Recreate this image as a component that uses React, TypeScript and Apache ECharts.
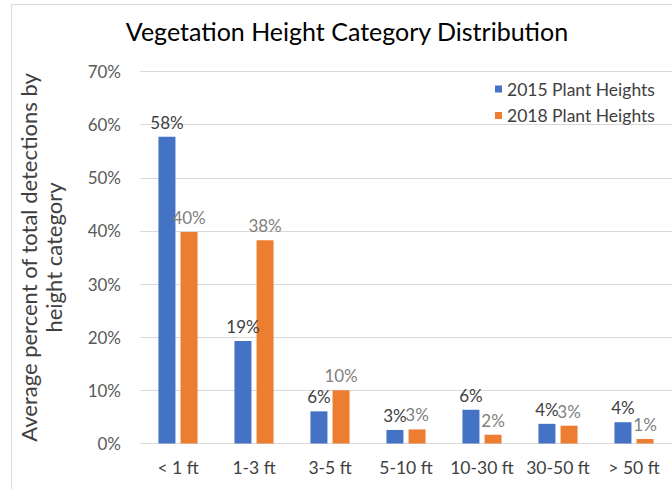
import React, { useEffect, useRef } from "react";
import * as echarts from "echarts";

const categories = ["< 1 ft", "1-3 ft", "3-5 ft", "5-10 ft", "10-30 ft", "30-50 ft", "> 50 ft"];
const heights2015 = [57.7, 19.3, 6.05, 2.55, 6.35, 3.7, 4.0];
const heights2018 = [39.8, 38.25, 10.0, 2.65, 1.65, 3.35, 0.85];
const seriesNames = ["2015 Plant Heights", "2018 Plant Heights"];
const yTicks = { min: 0, max: 70, interval: 10 };

const FONT = "Lato, 'Noto Sans', sans-serif";

export default function App() {
  const ref = useRef<HTMLDivElement>(null);
  useEffect(() => {
    document.body.style.margin = "0";
    if (!ref.current) return;
    const chart = echarts.init(ref.current, undefined, { renderer: "svg" });
    const label = (color: string) => ({
      show: true,
      position: "top",
      distance: 6,
      color,
      fontSize: 17,
      fontFamily: FONT,
      formatter: (p: any) => Math.round(p.value) + "%",
    });
    chart.setOption({
      animation: false,
      textStyle: { fontFamily: FONT },
      graphic: [
        { type: "line", shape: { x1: 11.5, y1: 4.5, x2: 672, y2: 4.5 }, style: { stroke: "#D9D9D9", lineWidth: 1 } },
        { type: "line", shape: { x1: 11.5, y1: 4.5, x2: 11.5, y2: 489 }, style: { stroke: "#D9D9D9", lineWidth: 1 } },
        {
          type: "text",
          x: 347,
          y: 31,
          style: {
            text: "Vegetation Height Category Distribution",
            textAlign: "center",
            textVerticalAlign: "middle",
            fontSize: 25,
            fontFamily: FONT,
            fill: "#000000",
          },
        },
      ],
      legend: {
        orient: "vertical",
        left: 490,
        top: 75,
        itemWidth: 7,
        itemHeight: 7,
        itemGap: 8.5,
        icon: "rect",
        textStyle: { fontSize: 17.5, color: "#404040", fontFamily: FONT },
        data: seriesNames,
      },
      grid: { left: 140, right: 0, top: 71.5, bottom: 45.5, containLabel: false },
      xAxis: {
        type: "category",
        data: categories,
        axisLine: { lineStyle: { color: "#D9D9D9", width: 1 } },
        axisTick: { show: false },
        axisLabel: { interval: 0, color: "#404040", fontSize: 17.5, margin: 15, fontFamily: FONT },
      },
      yAxis: {
        type: "value",
        min: yTicks.min,
        max: yTicks.max,
        interval: yTicks.interval,
        name: "Average percent of total detections by\nheight category",
        nameLocation: "middle",
        nameRotate: 90,
        nameGap: 74,
        nameTextStyle: { fontSize: 22, color: "#404040", lineHeight: 25, fontFamily: FONT, align: "center" },
        axisLine: { show: false },
        axisTick: { show: false },
        axisLabel: { formatter: "{value}%", color: "#595959", fontSize: 17, margin: 19, fontFamily: FONT },
        splitLine: { lineStyle: { color: "#D9D9D9", width: 1 } },
      },
      series: [
        {
          name: seriesNames[0],
          type: "bar",
          data: heights2015,
          barWidth: 17,
          barGap: "30%",
          itemStyle: { color: "#4472C4" },
          label: label("#404040"),
        },
        {
          name: seriesNames[1],
          type: "bar",
          data: heights2018,
          barWidth: 17,
          barGap: "30%",
          itemStyle: { color: "#ED7D31" },
          label: label("#7F7F7F"),
        },
      ],
    });
    return () => chart.dispose();
  }, []);
  return <div ref={ref} style={{ width: 672, height: 489 }} />;
}
